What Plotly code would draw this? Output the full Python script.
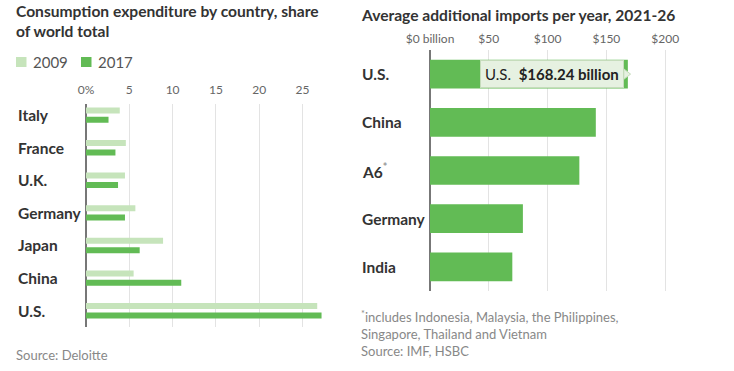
import plotly.graph_objects as go

# ---- data: left chart ----
countries_left = ["Italy", "France", "U.K.", "Germany", "Japan", "China", "U.S."]
share_2009 = [3.9, 4.6, 4.5, 5.7, 8.9, 5.5, 26.7]
share_2017 = [2.6, 3.4, 3.7, 4.5, 6.2, 11.0, 27.2]
left_tickvals = [0, 5, 10, 15, 20, 25]
left_ticktext = ["0%", "5", "10", "15", "20", "25"]
series_names = ["2009", "2017"]

# ---- data: right chart ----
countries_right = ["U.S.", "China", "A6", "Germany", "India"]
country_labels_right = ["U.S.", "China", "A6<sup><span style='color:#999'>*</span></sup>", "Germany", "India"]
imports = [168.24, 141.0, 127.0, 79.0, 70.0]
right_tickvals = [0, 50, 100, 150, 200]
right_ticktext = ["$0 billion", "$50", "$100", "$150", "$200"]

FONT = "Lato"
C_LIGHT = "#c6e4bb"
C_DARK = "#62bb55"
GRID = "#e3e3e3"
AXIS = "#777777"
W, H = 734, 371

fig = go.Figure()

bw = 0.184
half_gap = 0.052
fig.add_trace(go.Bar(y=countries_left, x=share_2009, orientation="h", name=series_names[0],
                     marker=dict(color=C_LIGHT, line=dict(width=0)),
                     width=bw, offset=-(bw + half_gap), xaxis="x", yaxis="y",
                     hoverinfo="skip", showlegend=False))
fig.add_trace(go.Bar(y=countries_left, x=share_2017, orientation="h", name=series_names[1],
                     marker=dict(color=C_DARK, line=dict(width=0)),
                     width=bw, offset=half_gap, xaxis="x", yaxis="y",
                     hoverinfo="skip", showlegend=False))
fig.add_trace(go.Bar(y=countries_right, x=imports, orientation="h", name="imports",
                     marker=dict(color=C_DARK, line=dict(width=0)),
                     width=0.595, xaxis="x2", yaxis="y2", showlegend=False,
                     hoverinfo="skip"))
# tooltip pointer
fig.add_trace(go.Scatter(x=[imports[0] - 1.5], y=[countries_right[0]], mode="markers",
                         marker=dict(symbol="triangle-right", size=9, color="#e6f1e1",
                                     line=dict(color="#c5dcbb", width=1)),
                         xaxis="x2", yaxis="y2", showlegend=False, hoverinfo="skip"))

def px_x(p):
    return p / W

def px_y(p):
    return 1 - p / H

tickfont = dict(family=FONT, size=12, color="#666")

fig.update_layout(
    template="none",
    width=W, height=H,
    autosize=False,
    margin=dict(l=0, r=0, t=0, b=0, pad=0),
    paper_bgcolor="white", plot_bgcolor="white",
    barmode="overlay",
    font=dict(family=FONT, color="#333"),
    showlegend=False,
    xaxis=dict(domain=[px_x(86), px_x(86 + 28 * 8.66)], range=[0, 28], side="top",
               tickvals=left_tickvals, ticktext=left_ticktext, tickfont=tickfont,
               ticklabelstandoff=7,
               showgrid=True, gridcolor=GRID, gridwidth=1,
               zeroline=True, zerolinecolor=AXIS, zerolinewidth=1.5,
               showline=False, ticks="", anchor="y", fixedrange=True, automargin=False),
    yaxis=dict(domain=[px_y(327), px_y(104)], range=[6.5, -0.34],
               categoryorder="array", categoryarray=countries_left,
               showticklabels=False, showgrid=False, zeroline=False, ticks="",
               anchor="x", fixedrange=True, automargin=False),
    xaxis2=dict(domain=[px_x(430), px_x(430 + 203 * 1.176)], range=[0, 203], side="top",
                tickvals=right_tickvals, ticktext=right_ticktext, tickfont=tickfont,
                ticklabelstandoff=4,
                showgrid=True, gridcolor=GRID, gridwidth=1,
                zeroline=True, zerolinecolor=AXIS, zerolinewidth=1.5,
                showline=False, ticks="", anchor="y2", fixedrange=True, automargin=False),
    yaxis2=dict(domain=[px_y(291), px_y(50)], range=[4.5, -0.5],
                categoryorder="array", categoryarray=countries_right,
                showticklabels=False, showgrid=False, zeroline=False, ticks="",
                anchor="x2", fixedrange=True, automargin=False),
)

ann = []
shapes = []
# titles
ann.append(dict(text="<b>Consumption expenditure by country, share<br>of world total</b>",
                x=px_x(14), y=px_y(0), xref="paper", yref="paper", xanchor="left", yanchor="top",
                align="left", showarrow=False, font=dict(family=FONT, size=15.6, color="#333")))
ann.append(dict(text="<b>Average additional imports per year, 2021-26</b>",
                x=px_x(359), y=px_y(4), xref="paper", yref="paper", xanchor="left", yanchor="top",
                align="left", showarrow=False, font=dict(family=FONT, size=15.6, color="#333")))
# legend (swatches + labels)
legend_x = [16, 81]
for name, col, lx in zip(series_names, [C_LIGHT, C_DARK], legend_x):
    shapes.append(dict(type="rect", xref="paper", yref="paper",
                       x0=px_x(lx), x1=px_x(lx + 10.5), y0=px_y(67), y1=px_y(57),
                       fillcolor=col, line=dict(width=0)))
    ann.append(dict(text=name, x=px_x(lx + 15), y=px_y(62), xref="paper", yref="paper",
                    xanchor="left", yanchor="middle", showarrow=False,
                    font=dict(family=FONT, size=15, color="#555")))
# category labels
for c in countries_left:
    ann.append(dict(text="<b>" + c + "</b>", x=px_x(16), y=c, xref="paper", yref="y",
                    xanchor="left", yanchor="middle", showarrow=False,
                    font=dict(family=FONT, size=15.5, color="#333")))
for c, lab in zip(countries_right, country_labels_right):
    ann.append(dict(text="<b>" + lab + "</b>", x=px_x(360), y=c, xref="paper", yref="y2",
                    xanchor="left", yanchor="middle", showarrow=False,
                    font=dict(family=FONT, size=15.5, color="#333")))
# tooltip
ann.append(dict(text="U.S.  <b>$" + f"{imports[0]:.2f}" + " billion</b>",
                x=imports[0] - 3, y=countries_right[0], xref="x2", yref="y2",
                xanchor="right", yanchor="middle", showarrow=False,
                bgcolor="#e6f1e1", bordercolor="#c5dcbb", borderwidth=1, borderpad=4,
                font=dict(family=FONT, size=15, color="#222")))
# sources
ann.append(dict(text="Source: Deloitte", x=px_x(14), y=px_y(355), xref="paper", yref="paper",
                xanchor="left", yanchor="middle", showarrow=False,
                font=dict(family=FONT, size=13, color="#888")))
ann.append(dict(text="<sup>*</sup>includes Indonesia, Malaysia, the Philippines,<br>"
                     "Singapore, Thailand and Vietnam<br>Source: IMF, HSBC",
                x=px_x(359), y=px_y(306), xref="paper", yref="paper",
                xanchor="left", yanchor="top", align="left", showarrow=False,
                font=dict(family=FONT, size=13, color="#888")))
fig.update_layout(annotations=ann, shapes=shapes)

fig.write_html("out.html", config={"displayModeBar": False, "staticPlot": True},
               post_script="document.body.style.margin='0';document.body.style.padding='0';document.body.style.overflow='hidden';")
